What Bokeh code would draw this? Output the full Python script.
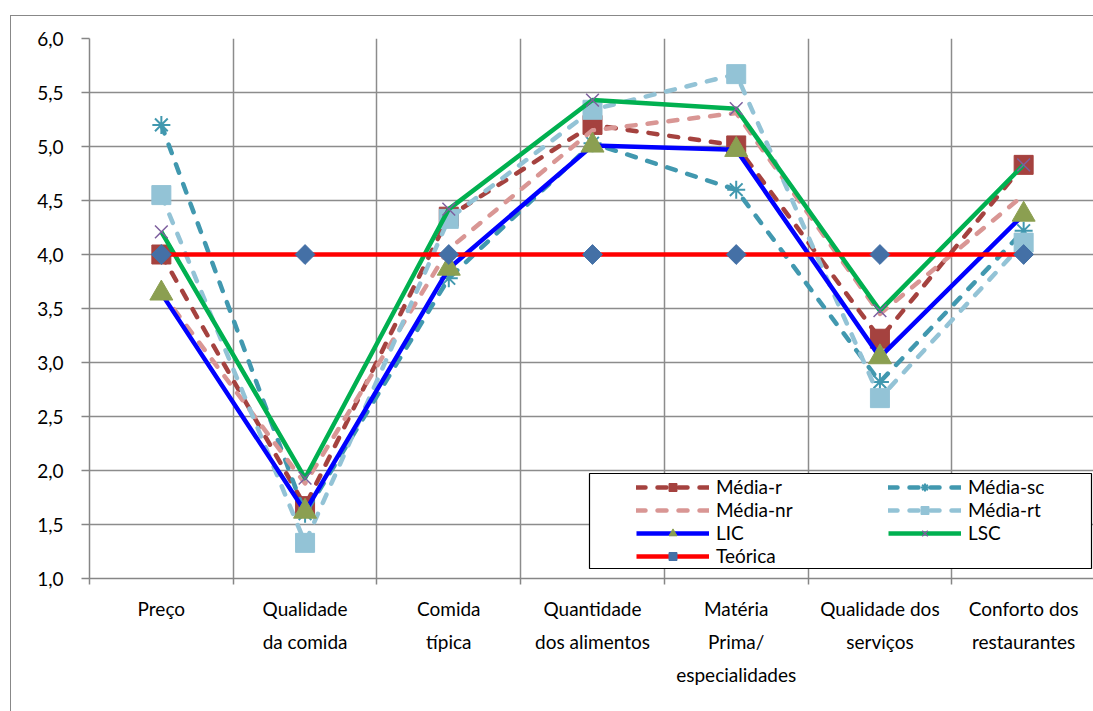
import math
from bokeh.plotting import figure
from bokeh.models import Range1d, FixedTicker, Legend, LegendItem, BoxAnnotation
from bokeh.embed import file_html
from bokeh.resources import INLINE

categories = ["Preço", "Qualidade\nda comida", "Comida\ntípica", "Quantidade\ndos alimentos",
              "Matéria\nPrima/\nespecialidades", "Qualidade dos\nserviços", "Conforto dos\nrestaurantes"]
media_r = [4.00, 1.67, 4.35, 5.20, 5.01, 3.22, 4.83]
media_sc = [5.20, 1.60, 3.78, 5.03, 4.60, 2.82, 4.22]
media_nr = [3.65, 1.88, 4.05, 5.15, 5.31, 3.45, 4.55]
media_rt = [4.55, 1.33, 4.33, 5.34, 5.67, 2.67, 4.11]
lic = [3.64, 1.62, 3.87, 5.01, 4.97, 3.05, 4.37]
lsc = [4.21, 1.93, 4.42, 5.43, 5.35, 3.48, 4.83]
teorica = [4.0, 4.0, 4.0, 4.0, 4.0, 4.0, 4.0]
y_ticks = [1.0, 1.5, 2.0, 2.5, 3.0, 3.5, 4.0, 4.5, 5.0, 5.5, 6.0]

xs = list(range(1, len(categories) + 1))
FONT = "Lato"
FS = "19px"

p = figure(width=1084, height=697, output_backend="svg", toolbar_location=None,
           x_range=Range1d(0.5, 7.5), y_range=Range1d(1.0, 6.0),
           min_border_left=78, min_border_top=22, min_border_right=0, min_border_bottom=135)
p.margin = (15, 0, 0, 10)
p.styles = {"border-top": "1px solid #888888", "border-left": "1px solid #888888"}
p.outline_line_color = None
p.background_fill_color = "white"
p.border_fill_color = "white"

# x axis
p.xaxis.ticker = FixedTicker(ticks=xs, minor_ticks=[x - 0.5 for x in xs] + [7.5])
p.xaxis.major_label_overrides = {x: c for x, c in zip(xs, categories)}
p.xaxis.major_tick_out = 0
p.xaxis.major_tick_in = 0
p.xaxis.minor_tick_out = 6
p.xaxis.minor_tick_in = 0
p.xaxis.minor_tick_line_color = "#868686"
p.xaxis.minor_tick_line_width = 1.5
p.xaxis.axis_line_color = "#868686"
p.xaxis.axis_line_width = 1.5
p.xaxis.major_label_standoff = 12
p.xaxis.major_label_text_font = FONT
p.xaxis.major_label_text_font_size = FS
p.xaxis.major_label_text_color = "black"
p.xaxis.major_label_text_line_height = 1.45

# y axis
p.yaxis.ticker = FixedTicker(ticks=y_ticks, minor_ticks=[])
p.yaxis.major_label_overrides = {t: ("%.1f" % t).replace(".", ",") for t in y_ticks}
p.yaxis.major_tick_out = 8
p.yaxis.major_tick_in = 0
p.yaxis.major_tick_line_color = "#868686"
p.yaxis.major_tick_line_width = 1.5
p.yaxis.axis_line_color = "#868686"
p.yaxis.axis_line_width = 1.5
p.yaxis.major_label_standoff = 18
p.yaxis.major_label_text_font = FONT
p.yaxis.major_label_text_font_size = FS
p.yaxis.major_label_text_color = "black"

# grids
p.xgrid.grid_line_color = None
p.xgrid.minor_grid_line_color = "#8C8C8C"
p.xgrid.minor_grid_line_width = 1.5
p.ygrid.grid_line_color = "#8C8C8C"
p.ygrid.grid_line_width = 1.5

LW = 4.5

def series(name, ys, color, dash, marker, mcolor, msize, mline=None, angle=0.0):
    rs = []
    kw = dict(line_color=color, line_width=LW, line_join="round")
    if dash:
        kw.update(line_dash=dash, line_cap="round")
    rs.append(p.line(xs, ys, **kw))
    if marker:
        if marker in ("x", "asterisk"):
            rs.append(p.scatter(xs, ys, marker=marker, size=msize, line_color=mcolor,
                                line_width=mline or 1.5, fill_color=None))
        else:
            rs.append(p.scatter(xs, ys, marker=marker, size=msize, fill_color=mcolor,
                                line_color=mcolor, line_width=1, angle=angle))
    return LegendItem(label=name, renderers=rs)

DASH = "9 12"
it_r = series("Média-r", media_r, "#A5423F", DASH, "square", "#A5423F", 19)
it_sc = series("Média-sc", media_sc, "#4198AF", DASH, "asterisk", "#4198AF", 18, 2)
it_nr = series("Média-nr", media_nr, "#D99694", DASH, None, None, 0)
it_rt = series("Média-rt", media_rt, "#93C3D6", DASH, "square", "#93C3D6", 19)
it_lic = series("LIC", lic, "#0000FF", None, "triangle", "#8B9F51", 23)
it_lsc = series("LSC", lsc, "#00B050", None, "x", "#7D5F9E", 18, 1.5)
it_t = series("Teórica", teorica, "#FF0000", None, "square", "#4470A6", 14, angle=math.pi / 4)

box = BoxAnnotation(left=500, right=1002, bottom=10, top=105,
                    left_units="screen", right_units="screen",
                    bottom_units="screen", top_units="screen",
                    fill_color="white", fill_alpha=1.0,
                    line_color="black", line_width=1.2, line_alpha=1.0)
p.add_layout(box)

# column-major layout: first column then second column
legend = Legend(items=[it_r, it_nr, it_lic, it_t, it_sc, it_rt, it_lsc], ncols=2,
                location=(547, 11), label_text_font=FONT, label_text_font_size=FS,
                label_text_color="black", glyph_width=73, glyph_height=20, label_height=20,
                label_standoff=7, label_width=172, spacing=0, padding=0,
                border_line_color=None, background_fill_alpha=0.0)
p.add_layout(legend, "center")

open("out.html", "w").write(file_html(p, INLINE))
